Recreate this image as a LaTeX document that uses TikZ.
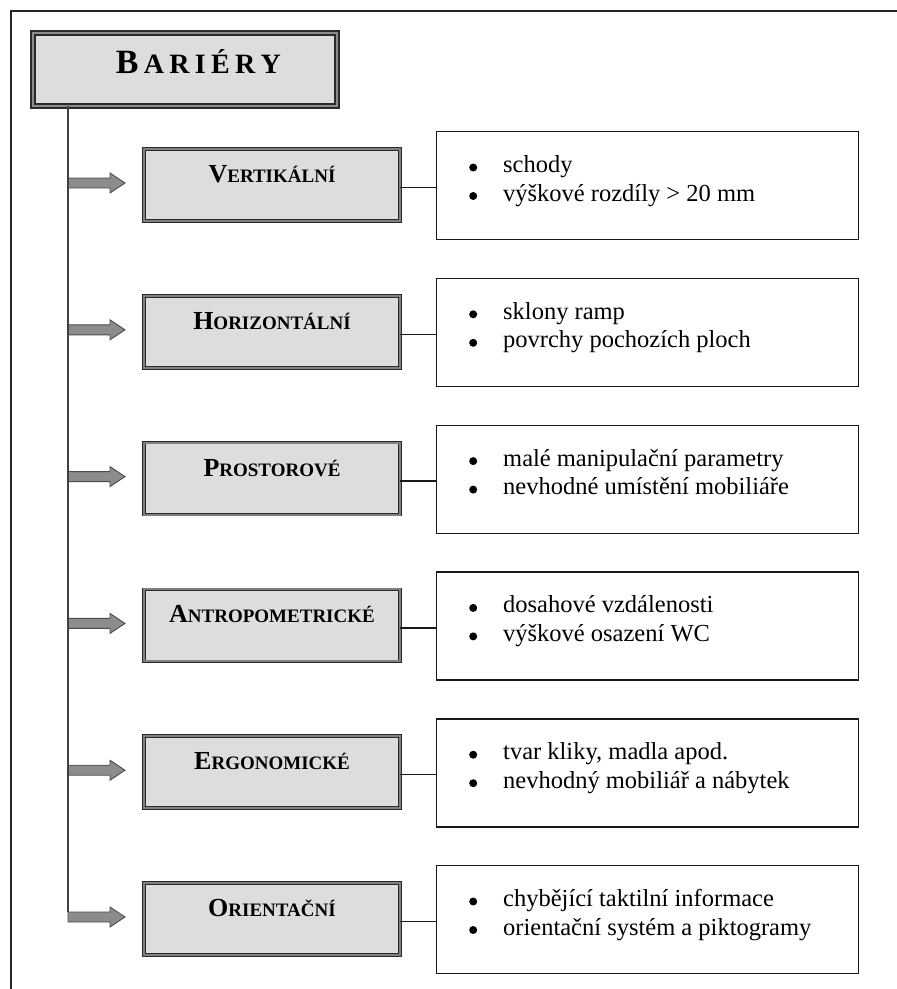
\documentclass[tikz,border=0pt]{standalone}
\usepackage{fontspec}
\setmainfont{Liberation Serif}
\usetikzlibrary{calc}
\definecolor{boxgray}{HTML}{DDDDDD}
\definecolor{arrgray}{HTML}{8C8C8C}
\definecolor{edgedark}{HTML}{2A2A2A}
\newcommand\kapit[2]{{\fontsize{26}{26}\selectfont #1}{\fontsize{19}{19}\selectfont #2}}
\newcommand\ts{\hspace{5.3pt}}
\newcommand\bod{\tikz[baseline=-5pt]\fill[black] (0pt,0pt) circle (4pt);}
\tikzset{
  framestyle/.style={line width=1.8pt, draw=black!85},
  titlebox/.style={rectangle, draw=edgedark, line width=1.6pt, double=black!45, double distance=2.4pt,
     fill=boxgray, minimum width=304pt, minimum height=73pt, inner sep=0pt,
     text height=28pt, text depth=19pt, font=\bfseries},
  catbox/.style={rectangle, draw=edgedark, line width=0.8pt, double=black!50, double distance=2pt,
     fill=boxgray, minimum width=256pt, minimum height=72pt, inner sep=0pt,
     text height=22pt, text depth=27.2pt, font=\bfseries},
  listbox/.style={rectangle, draw=black!90, line width=1.4pt, fill=white,
     minimum width=422pt, minimum height=108pt, inner sep=0pt},
  listtext/.style={anchor=base west, inner sep=0pt, font=\fontsize{24.5}{28.5}\selectfont},
  trunk/.style={draw=black!75, line width=1.6pt},
  conn/.style={draw=black!90, line width=1.3pt},
  fatarrow/.style={fill=arrgray, draw=black!70, line width=0.9pt, line join=miter}
}
\newcommand\radek[5]{%
  \pgfmathsetmacro\T{147+146.8*#1}%
  \node[catbox, anchor=north west] (c#1) at (143.6,\T+1.6) {\kapit{#2}{#3}};
  \node[listbox, anchor=north west] (r#1) at (436,\T-16) {};
  \node[listtext] (l#1) at ($(r#1.north west)+(33,41.5)$)
    {\begin{tabular}[t]{@{}p{34pt}@{}l@{}}\bod & #4\\ \bod & #5\end{tabular}};
  \coordinate (t#1) at (68,\T+36);
  \draw[fatarrow] (t#1) ++(0,-5) -- ++(42,0) -- ++(0,-5) -- ++(15,10) -- ++(-15,10)
     -- ++(0,-5) -- ++(-42,0) -- cycle;
  \draw[conn] ([yshift=-2.5pt]c#1.east) -- ([yshift=-2.5pt]c#1.east -| r#1.west);
}
\begin{document}
\begin{tikzpicture}[x=1pt,y=-1pt]
\useasboundingbox (0,0) rectangle (897,989);
% page frame (cut at right and bottom)
\draw[framestyle] (897,11) -- (11,11) -- (11,989);
% title
\node[titlebox, anchor=north west] (title) at (32,32)
  {\hspace*{27pt}{\fontsize{34}{34}\selectfont B}\ts{\fontsize{28}{28}\selectfont A\ts R\ts I\ts É\ts R\ts Y}};
\coordinate (trunktop) at (68,106);
\radek{0}{V}{ERTIKÁLNÍ}{schody}{výškové rozdíly > 20 mm}
\radek{1}{H}{ORIZONTÁLNÍ}{sklony ramp}{povrchy pochozích ploch}
\radek{2}{P}{ROSTOROVÉ}{malé manipulační parametry}{nevhodné umístění mobiliáře}
\radek{3}{A}{NTROPOMETRICKÉ}{dosahové vzdálenosti}{výškové osazení WC}
\radek{4}{E}{RGONOMICKÉ}{tvar kliky, madla apod.}{nevhodný mobiliář a nábytek}
\radek{5}{O}{RIENTAČNÍ}{chybějící taktilní informace}{orientační systém a piktogramy}
\draw[trunk] (trunktop) -- ([yshift=5pt]t5);
\end{tikzpicture}
\end{document}
